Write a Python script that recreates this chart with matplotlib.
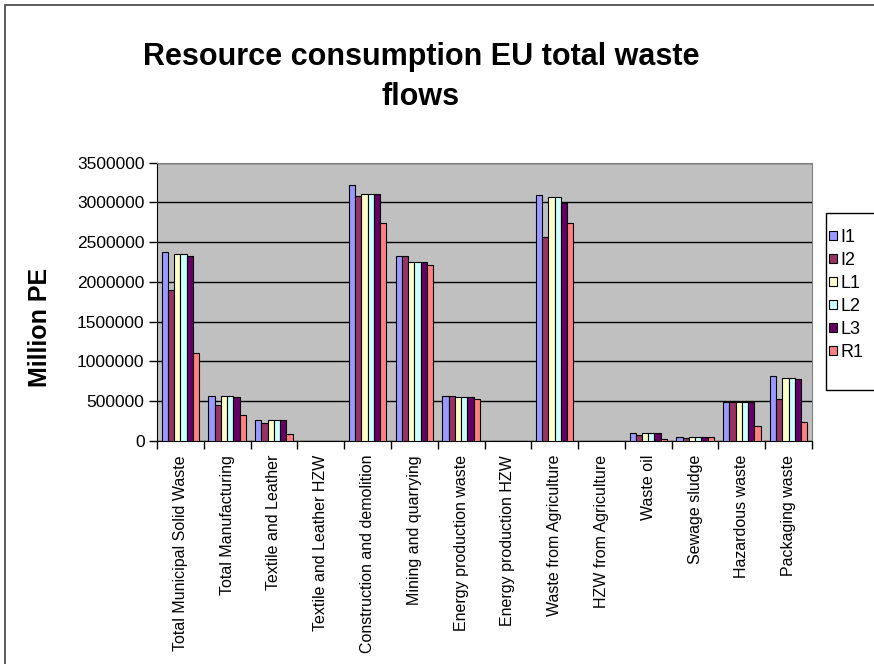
import numpy as np
import matplotlib
matplotlib.use('Agg')
import matplotlib.pyplot as plt
from matplotlib.patches import Rectangle, Patch

plt.rcParams['font.family'] = ['Liberation Sans', 'DejaVu Sans']

categories = ['Total Municipal Solid Waste', 'Total Manufacturing', 'Textile and Leather',
              'Textile and Leather HZW', 'Construction and demolition', 'Mining and quarrying',
              'Energy production waste', 'Energy production HZW', 'Waste from Agriculture',
              'HZW from Agriculture', 'Waste oil', 'Sewage sludge', 'Hazardous waste',
              'Packaging waste']

series_names = ['I1', 'I2', 'L1', 'L2', 'L3', 'R1']

i1 = [2370000, 566000, 260000, 0, 3218000, 2320000, 566000, 0, 3096000, 0, 106000, 55000, 496000, 814000]
i2 = [1893000, 458000, 231000, 0, 3083000, 2320000, 566000, 0, 2567000, 0, 72000, 43000, 496000, 534000]
l1 = [2353000, 566000, 260000, 0, 3108000, 2249000, 550000, 0, 3067000, 0, 106000, 55000, 496000, 798000]
l2 = [2353000, 566000, 260000, 0, 3108000, 2249000, 550000, 0, 3067000, 0, 106000, 55000, 496000, 798000]
l3 = [2324000, 550000, 260000, 0, 3108000, 2249000, 550000, 0, 2991000, 0, 106000, 55000, 496000, 785000]
r1 = [1107000, 332000, 88000, 0, 2743000, 2215000, 534000, 0, 2743000, 0, 30000, 55000, 194000, 244000]

series = [i1, i2, l1, l2, l3, r1]
colors = ['#9999FF', '#993366', '#FFFFCC', '#CCFFFF', '#660066', '#FF8080']

W, H = 874, 664
fig = plt.figure(figsize=(W / 100, H / 100), dpi=100)
ax = fig.add_axes([157 / W, 1 - 441 / H, (812 - 157) / W, (441 - 162.6) / H])
ax.set_facecolor('#C0C0C0')

# excel style clustered columns, gap width 150%
x = np.arange(len(categories))
bw = 1 / 7.5
for k, (vals, c) in enumerate(zip(series, colors)):
    ax.bar(x + (k - 2.5) * bw, vals, bw, color=c, edgecolor='black', linewidth=0.8,
           label=series_names[k], zorder=3)

ax.set_xlim(-0.5, len(categories) - 0.5)
ax.set_ylim(0, 3500000)
ax.set_yticks(np.arange(0, 3500001, 500000))
ax.set_yticklabels([str(v) for v in range(0, 3500001, 500000)], fontsize=12.5)
ax.yaxis.grid(True, color='black', linewidth=1, zorder=0)
ax.set_axisbelow(True)
ax.tick_params(axis='y', direction='out', length=6, width=1, pad=3)

ax.set_xticks(x)
ax.set_xticklabels(categories, rotation=90, fontsize=11.5, va='top', ha='center')
ax.tick_params(axis='x', which='major', length=0, pad=10)
ax.set_xticks(np.arange(-0.5, len(categories), 1), minor=True)
ax.tick_params(axis='x', which='minor', direction='out', length=6, width=1)

for s in ['top', 'right']:
    ax.spines[s].set_color('#808080')
for s in ['left', 'bottom']:
    ax.spines[s].set_color('black')

fig.text(421 / W, 1 - 57 / H, 'Resource consumption EU total waste', fontsize=22,
         fontweight='bold', ha='center', va='center')
fig.text(421 / W, 1 - 97 / H, 'flows', fontsize=22, fontweight='bold', ha='center', va='center')
fig.text(40 / W, 1 - 327 / H, 'Million PE', fontsize=18, fontweight='bold', rotation=90,
         ha='center', va='center')

# legend without its own frame, box drawn separately (it runs past the right edge)
handles = [Patch(facecolor=c, edgecolor='black', linewidth=0.8) for c in colors]
fig.legend(handles, series_names, loc='upper left', bbox_to_anchor=(829 / W, 1 - 229 / H),
           fontsize=13, frameon=False, borderpad=0, handlelength=0.42, handleheight=0.42,
           handletextpad=0.2, labelspacing=0.33, borderaxespad=0)
fig.patches.append(Rectangle((826 / W, 1 - 390 / H), 100 / W, (390 - 213) / H,
                             transform=fig.transFigure, fill=False, edgecolor='black', linewidth=1))

# chart area border (right and bottom fall outside the picture)
fig.patches.append(Rectangle((5 / W, -0.1), 1.2, 1.1 - 5 / H, transform=fig.transFigure,
                             fill=False, edgecolor='#404040', linewidth=1.2))

fig.savefig('out.png', dpi=100)
